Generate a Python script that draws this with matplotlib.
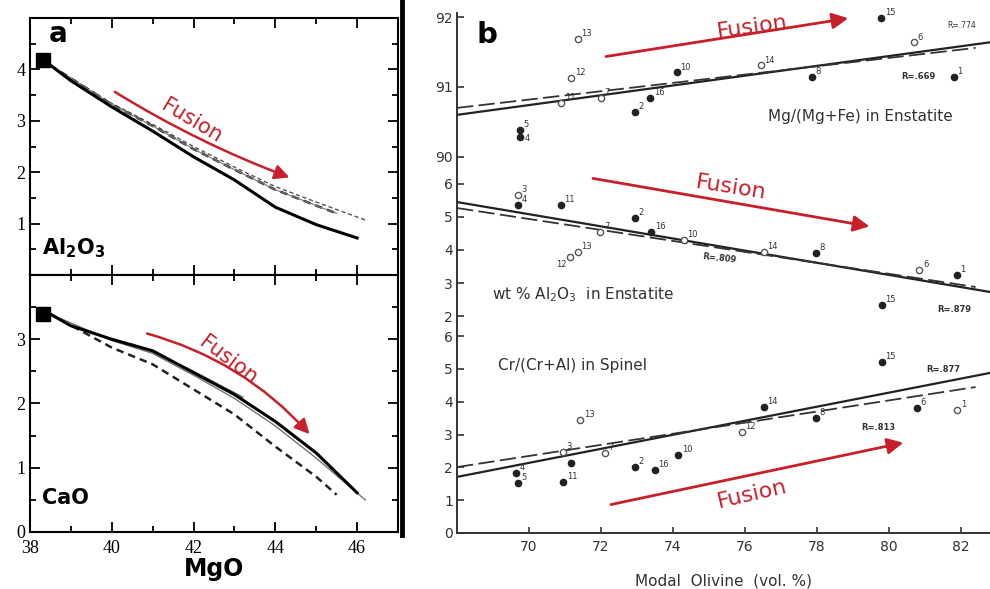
import matplotlib.pyplot as plt
from matplotlib.lines import Line2D
from matplotlib.ticker import MultipleLocator

plt.rcParams['font.family'] = 'DejaVu Sans'
plt.rcParams['mathtext.fontset'] = 'dejavusans'

red = '#c8202a'

# ---------------- panel a: melt model curves ----------------
mgo_al_solid = [38.5, 39, 40, 41, 42, 43, 44, 45, 46]
al_solid = [4.08, 3.78, 3.27, 2.8, 2.3, 1.85, 1.32, 0.98, 0.72]
mgo_al_dash = [38.5, 40, 41, 42, 43, 44, 45, 45.5]
al_dash = [4.08, 3.32, 2.9, 2.45, 2.05, 1.66, 1.35, 1.2]
mgo_al_thin = [38.5, 40, 41, 42, 43, 44, 45, 46.2]
al_thin = [4.08, 3.34, 2.93, 2.5, 2.1, 1.72, 1.42, 1.07]

mgo_ca_solid = [38.5, 39, 40, 41, 42, 43, 44, 45, 46]
ca_solid = [3.39, 3.21, 3.0, 2.82, 2.48, 2.14, 1.72, 1.23, 0.61]
mgo_ca_dash = [38.5, 40, 41, 42, 43, 44, 45, 45.5]
ca_dash = [3.39, 2.87, 2.61, 2.22, 1.83, 1.33, 0.86, 0.58]
mgo_ca_thin = [38.5, 40, 41, 42, 43, 44, 45, 46.2]
ca_thin = [3.39, 2.98, 2.78, 2.44, 2.08, 1.65, 1.15, 0.5]
mgo_ca_short = [40.5, 41, 42, 43.2]
ca_short = [2.92, 2.8, 2.5, 2.1]

source_mgo = 38.33
source_al = 4.18
source_ca = 3.39

# ---------------- panel b: samples vs modal olivine ----------------
ol_mg = [71.36, 71.17, 72.0, 70.9, 69.75, 69.75, 74.1, 73.37, 72.95, 76.43, 77.85, 79.78, 80.7, 81.8]
mg_val = [91.69, 91.13, 90.84, 90.77, 90.38, 90.29, 91.21, 90.84, 90.64, 91.31, 91.14, 91.99, 91.64, 91.14]
mg_open = [1, 1, 1, 1, 0, 0, 0, 0, 0, 1, 0, 0, 1, 0]
mg_lab = ['13', '12', '7', '11', '5', '4', '10', '16', '2', '14', '8', '15', '6', '1']

ol_al = [69.69, 69.69, 70.89, 71.98, 72.95, 73.4, 74.29, 71.14, 71.36, 76.52, 77.97, 80.84, 81.87, 79.8]
al_val = [5.67, 5.36, 5.36, 4.55, 4.97, 4.55, 4.3, 3.79, 3.94, 3.94, 3.91, 3.39, 3.24, 2.33]
al_open = [1, 0, 0, 1, 0, 0, 1, 1, 1, 1, 0, 1, 0, 0]
al_lab = ['3', '4', '11', '7', '2', '16', '10', '12', '13', '14', '8', '6', '1', '15']

ol_cr = [71.42, 70.95, 72.1, 71.17, 70.95, 69.64, 69.7, 72.95, 73.5, 74.15, 75.9, 76.52, 77.97, 79.8, 80.78, 81.89]
cr_val = [3.45, 2.47, 2.44, 2.13, 1.55, 1.83, 1.52, 2.01, 1.92, 2.38, 3.08, 3.84, 3.5, 5.21, 3.81, 3.75]
cr_open = [1, 1, 1, 0, 0, 0, 0, 0, 0, 0, 1, 0, 0, 0, 0, 1]
cr_lab = ['13', '3', '7', '', '11', '4', '5', '2', '16', '10', '12', '14', '8', '15', '6', '1']

# regression lines (end points)
fit_x = [68, 82.8]
fit_x_dash = [68, 82.4]
mg_fit = [90.6, 91.64]
mg_fit_dash = [90.7, 91.56]
al_fit = [5.45, 2.73]
al_fit_dash = [5.27, 2.88]
cr_fit = [1.71, 4.88]
cr_fit_dash = [2.01, 4.45]

fig = plt.figure(figsize=(9.9, 5.89), dpi=100)

# ---- panel a ----
ax1 = fig.add_axes([0.0303, 0.5331, 0.3717, 0.4363])
ax2 = fig.add_axes([0.0303, 0.0968, 0.3717, 0.4363])

for ax in (ax1, ax2):
    ax.set_xlim(38, 47)
    ax.xaxis.set_major_locator(MultipleLocator(2))
    ax.xaxis.set_minor_locator(MultipleLocator(1))
    ax.yaxis.set_major_locator(MultipleLocator(1))
    ax.yaxis.set_minor_locator(MultipleLocator(0.5))
    ax.tick_params(which='both', direction='in', top=True, right=True, width=1.3,
                   labelsize=13)
    ax.tick_params(which='major', length=7)
    ax.tick_params(which='minor', length=4)
    ax.tick_params(axis='x', pad=6)
    for s in ax.spines.values():
        s.set_linewidth(1.5)
    for lab in ax.get_xticklabels() + ax.get_yticklabels():
        lab.set_fontfamily('Liberation Serif')

ax1.set_ylim(0, 5)
ax1.set_yticks([1, 2, 3, 4])
ax1.tick_params(labelbottom=False)
ax1.plot(mgo_al_thin, al_thin, color='#555555', lw=1, ls=(0, (3, 2)))
ax1.plot(mgo_al_dash, al_dash, color='#333333', lw=1.8, ls=(0, (3, 2)))
ax1.plot(mgo_al_dash, al_dash, color='#6a7a6a', lw=0.8)
ax1.plot(mgo_al_solid, al_solid, color='black', lw=2.2)
ax1.plot(source_mgo, source_al, 's', color='black', markersize=10)
ax1.text(38.45, 4.68, 'a', fontsize=20, fontweight='bold', va='center')
ax1.text(38.3, 0.52, r'$\mathbf{Al_2O_3}$', fontsize=15, va='center')
ax1.annotate('', xy=(44.41, 1.88), xytext=(40.02, 3.59),
             arrowprops=dict(arrowstyle='-|>', color=red, lw=1.8, mutation_scale=22,
                             connectionstyle='arc3,rad=0.05'))
ax1.text(41.95, 3.0, 'Fusion', color=red, fontsize=15, rotation=-31,
         ha='center', va='center')

ax2.set_ylim(0, 4)
ax2.set_yticks([0, 1, 2, 3])
ax2.plot(mgo_ca_dash, ca_dash, color='#222222', lw=1.8, ls=(0, (3, 2)))
ax2.plot(mgo_ca_thin, ca_thin, color='#6a7a6a', lw=1)
ax2.plot(mgo_ca_short, ca_short, color='#6a7a6a', lw=1.2)
ax2.plot(mgo_ca_solid, ca_solid, color='black', lw=2.2)
ax2.plot(source_mgo, source_ca, 's', color='black', markersize=10)
ax2.text(38.3, 0.53, 'CaO', fontsize=15, fontweight='bold', va='center')
ax2.annotate('', xy=(44.88, 1.49), xytext=(40.8, 3.1),
             arrowprops=dict(arrowstyle='-|>', color=red, lw=1.8, mutation_scale=22,
                             connectionstyle='arc3,rad=-0.15'))
ax2.text(42.85, 2.68, 'Fusion', color=red, fontsize=15, rotation=-37,
         ha='center', va='center')
ax2.set_xlabel('MgO', fontsize=17, fontweight='bold', labelpad=0)

# black edge of the scanned figure b
fig.add_artist(Line2D([402 / 990, 402 / 990], [1, 1 - 535 / 589],
                      transform=fig.transFigure, color='black', lw=3.5))

# ---- panel b ----
bl = 457 / 990
bw = 1 - bl
axt = fig.add_axes([bl, 1 - 170 / 589, bw, 157 / 589])
axm = fig.add_axes([bl, 1 - 328 / 589, bw, 158 / 589])
axb = fig.add_axes([bl, 1 - 533 / 589, bw, 205 / 589])

axt.set_ylim(89.81, 92.06)
axt.set_yticks([90, 91, 92])
axm.set_ylim(1.64, 6.42)
axm.set_yticks([2, 3, 4, 5, 6])
axb.set_ylim(0, 6.25)
axb.set_yticks([0, 1, 2, 3, 4, 5, 6])

panels = [
    (axt, ol_mg, mg_val, mg_open, mg_lab, mg_fit, mg_fit_dash),
    (axm, ol_al, al_val, al_open, al_lab, al_fit, al_fit_dash),
    (axb, ol_cr, cr_val, cr_open, cr_lab, cr_fit, cr_fit_dash),
]
for ax, xs, ys, op, labs, fit, fitd in panels:
    ax.set_xlim(68, 82.8)
    ax.patch.set_alpha(0)
    for side in ('top', 'right', 'bottom'):
        ax.spines[side].set_visible(False)
    ax.spines['left'].set_linewidth(1.4)
    ax.spines['left'].set_color('#333333')
    ax.tick_params(axis='y', direction='in', length=5, width=1.2, labelsize=10,
                   colors='#333333', pad=3)
    ax.tick_params(axis='x', bottom=False, labelbottom=False)
    ax.plot(fit_x, fit, color='#222222', lw=1.6)
    ax.plot(fit_x_dash, fitd, color='#333333', lw=1.3, ls=(0, (9, 3)))
    for x, y, o, lab in zip(xs, ys, op, labs):
        if o:
            ax.plot(x, y, 'o', mfc='white', mec='#555555', mew=1, markersize=4.5)
        else:
            ax.plot(x, y, 'o', color='#222222', markersize=4.5)
        if lab:
            off = (2.5, 2)
            if ax is axm and lab == '12':
                off = (-10, -7)
            if ax is axt and lab == '4':
                off = (3, -3)
            ax.annotate(lab, (x, y), xytext=off, textcoords='offset points',
                        fontsize=6, color='#333333')

axb.spines['bottom'].set_visible(True)
axb.spines['bottom'].set_linewidth(1.4)
axb.spines['bottom'].set_color('#333333')
axb.set_xticks([70, 72, 74, 76, 78, 80, 82])
axb.tick_params(axis='x', bottom=True, labelbottom=True, direction='in', length=4,
                width=1.2, labelsize=10, colors='#333333', pad=5)
axb.set_xlabel('Modal  Olivine  (vol. %)', fontsize=11, color='#333333', labelpad=14)

# panel b text
axt.text(68.55, 91.74, 'b', fontsize=21, fontweight='bold', va='center')
axt.text(79.2, 90.57, 'Mg/(Mg+Fe) in Enstatite', fontsize=11, color='#333333',
         ha='center', va='center')
axt.text(82.0, 91.84, 'R=.774', fontsize=5.5, color='#333333', ha='center')
axt.text(80.8, 91.12, 'R=.669', fontsize=6, color='#333333', ha='center',
         fontweight='bold')
axm.text(71.5, 2.64, r'wt % Al$_2$O$_3$  in Enstatite', fontsize=11,
         color='#333333', ha='center', va='center')
axm.text(75.3, 3.62, 'R=.809', fontsize=6, color='#333333', ha='center',
         fontweight='bold', rotation=-6)
axm.text(81.8, 2.12, 'R=.879', fontsize=6, color='#333333', ha='center',
         fontweight='bold')
axb.text(71.2, 5.12, 'Cr/(Cr+Al) in Spinel', fontsize=11, color='#333333',
         ha='center', va='center')
axb.text(81.5, 4.92, 'R=.877', fontsize=6, color='#333333', ha='center',
         fontweight='bold')
axb.text(79.7, 3.15, 'R=.813', fontsize=6, color='#333333', ha='center',
         fontweight='bold')

# fusion arrows in b
axt.annotate('', xy=(78.94, 91.99), xytext=(72.06, 91.43),
             arrowprops=dict(arrowstyle='-|>', color=red, lw=2, mutation_scale=24))
axt.text(76.2, 91.86, 'Fusion', color=red, fontsize=16, rotation=8,
         ha='center', va='center')
axm.annotate('', xy=(79.53, 4.7), xytext=(71.7, 6.18),
             arrowprops=dict(arrowstyle='-|>', color=red, lw=2, mutation_scale=24))
axm.text(75.6, 5.88, 'Fusion', color=red, fontsize=16, rotation=-9,
         ha='center', va='center')
axb.annotate('', xy=(80.47, 2.77), xytext=(72.2, 0.85),
             arrowprops=dict(arrowstyle='-|>', color=red, lw=2, mutation_scale=24))
axb.text(76.2, 1.2, 'Fusion', color=red, fontsize=16, rotation=13,
         ha='center', va='center')

plt.savefig('out.png', dpi=100)
